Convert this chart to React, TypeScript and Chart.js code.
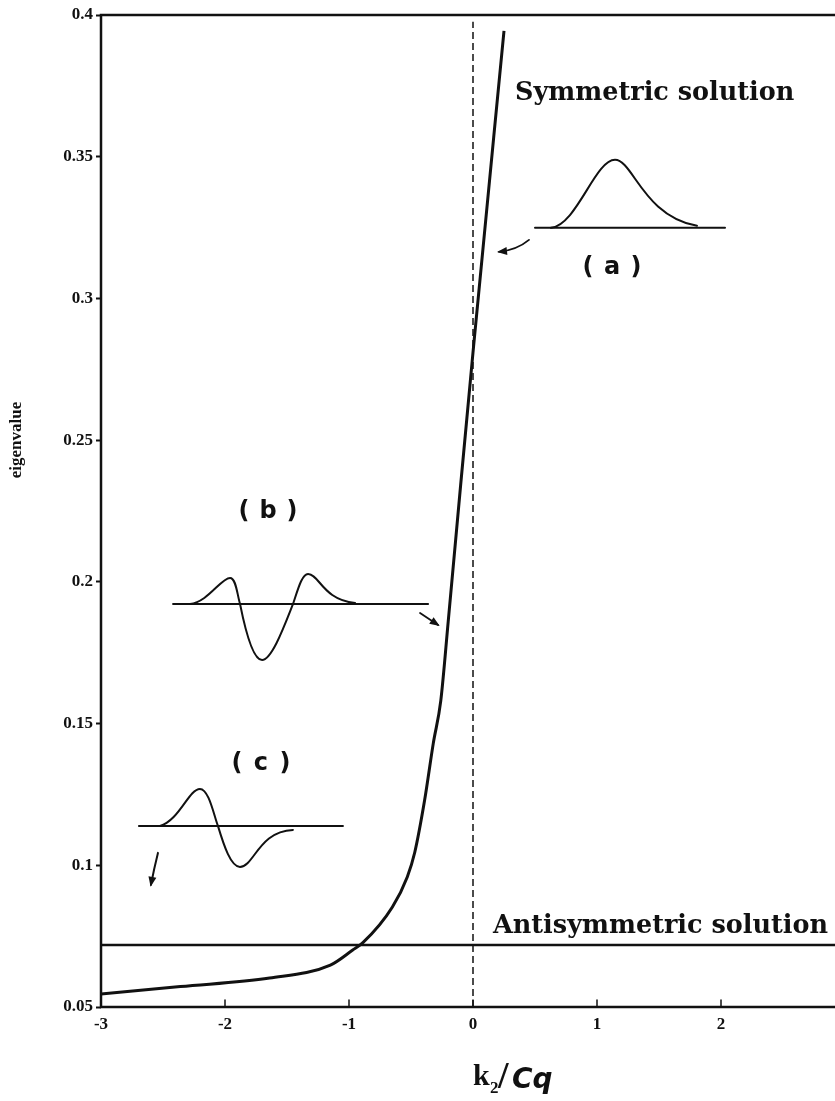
import { useEffect, useRef } from 'react';
import { Chart, registerables } from 'chart.js';

Chart.register(...registerables);

// ---- data ----
const symmetricX = [-3, -2.36, -1.64, -1.15, -0.97, -0.89, -0.65, -0.53, -0.47, -0.39, -0.32, -0.26, -0.2, -0.1, 0.0, 0.25];
const symmetricY = [0.0546, 0.0572, 0.0602, 0.0648, 0.0701, 0.0726, 0.0853, 0.0959, 0.1045, 0.123, 0.1431, 0.158, 0.186, 0.234, 0.281, 0.3944];
const antisymmetricX = [-3, 3];
const antisymmetricY = [0.0719, 0.0719];
const markerX = [0, 0];
const markerY = [0.05, 0.3976];
const xTickValues = [-3, -2, -1, 0, 1, 2, 3];
const yTickValues = [0.05, 0.1, 0.15, 0.2, 0.25, 0.3, 0.35, 0.4];

const INK = '#111';

function pts(xs: number[], ys: number[]) {
  return xs.map((x, i) => ({ x, y: ys[i] }));
}

function arrow(ctx: CanvasRenderingContext2D, x0: number, y0: number, cx: number, cy: number, x1: number, y1: number) {
  ctx.beginPath();
  ctx.moveTo(x0, y0);
  ctx.quadraticCurveTo(cx, cy, x1, y1);
  ctx.stroke();
  const ang = Math.atan2(y1 - cy, x1 - cx);
  const L = 8, W = 4;
  ctx.beginPath();
  ctx.moveTo(x1 + Math.cos(ang) * 2, y1 + Math.sin(ang) * 2);
  ctx.lineTo(x1 - Math.cos(ang) * L - Math.sin(ang) * W, y1 - Math.sin(ang) * L + Math.cos(ang) * W);
  ctx.lineTo(x1 - Math.cos(ang) * L + Math.sin(ang) * W, y1 - Math.sin(ang) * L - Math.cos(ang) * W);
  ctx.closePath();
  ctx.fill();
}

function paren(ctx: CanvasRenderingContext2D, letter: string, cx: number, cy: number) {
  ctx.save();
  ctx.font = 'bold 24px "DejaVu Sans"';
  ctx.textAlign = 'center';
  ctx.textBaseline = 'middle';
  ctx.fillText('(', cx - 24, cy);
  ctx.fillText(letter, cx, cy);
  ctx.fillText(')', cx + 24, cy);
  ctx.restore();
}

const decorPlugin = {
  id: 'decor',
  afterDatasetsDraw(chart: any) {
    const { ctx, chartArea } = chart;
    const xs = chart.scales.x;
    const ys = chart.scales.y;
    ctx.save();
    ctx.strokeStyle = INK;
    ctx.fillStyle = INK;
    ctx.lineCap = 'round';

    // frame (left, top, bottom)
    ctx.lineWidth = 2.5;
    ctx.beginPath();
    ctx.moveTo(chartArea.right + 20, chartArea.top);
    ctx.lineTo(chartArea.left, chartArea.top);
    ctx.lineTo(chartArea.left, chartArea.bottom);
    ctx.lineTo(chartArea.right + 20, chartArea.bottom);
    ctx.stroke();

    // inward x ticks
    ctx.lineWidth = 1.5;
    xs.ticks.forEach((t: any) => {
      const px = xs.getPixelForValue(t.value);
      ctx.beginPath();
      ctx.moveTo(px, chartArea.bottom);
      ctx.lineTo(px, chartArea.bottom - 7);
      ctx.stroke();
    });

    // inset (a)
    ctx.lineWidth = 2;
    let ox = xs.getPixelForValue(0.5), oy = ys.getPixelForValue(0.3249);
    ctx.beginPath();
    ctx.moveTo(ox, oy); ctx.lineTo(ox + 190, oy); ctx.stroke();
    ctx.beginPath();
    ctx.moveTo(ox + 16, oy);
    ctx.bezierCurveTo(ox + 42, oy - 3, ox + 60, oy - 68, ox + 80, oy - 68);
    ctx.bezierCurveTo(ox + 98, oy - 68, ox + 108, oy - 12, ox + 162, oy - 2);
    ctx.stroke();
    paren(ctx, 'a', ox + 77, oy + 40);
    ctx.lineWidth = 1.8;
    arrow(ctx, ox - 6, oy + 12, ox - 18, oy + 22, ox - 36, oy + 24);

    // inset (b)
    ctx.lineWidth = 2;
    ox = xs.getPixelForValue(-2.419); oy = ys.getPixelForValue(0.1922);
    ctx.beginPath();
    ctx.moveTo(ox, oy); ctx.lineTo(ox + 255, oy); ctx.stroke();
    ctx.beginPath();
    ctx.moveTo(ox + 17, oy);
    ctx.bezierCurveTo(ox + 35, oy - 2, ox + 48, oy - 26, ox + 57, oy - 26);
    ctx.bezierCurveTo(ox + 63, oy - 26, ox + 64, oy - 10, ox + 67, oy);
    ctx.bezierCurveTo(ox + 72, oy + 25, ox + 80, oy + 56, ox + 89, oy + 56);
    ctx.bezierCurveTo(ox + 99, oy + 56, ox + 112, oy + 20, ox + 120, oy);
    ctx.bezierCurveTo(ox + 125, oy - 15, ox + 129, oy - 30, ox + 135, oy - 30);
    ctx.bezierCurveTo(ox + 146, oy - 30, ox + 150, oy - 4, ox + 182, oy - 1);
    ctx.stroke();
    paren(ctx, 'b', ox + 95, oy - 92);
    ctx.lineWidth = 1.8;
    arrow(ctx, ox + 247, oy + 9, ox + 256, oy + 15, ox + 265, oy + 21);

    // inset (c)
    ctx.lineWidth = 2;
    ox = xs.getPixelForValue(-2.694); oy = ys.getPixelForValue(0.1139);
    ctx.beginPath();
    ctx.moveTo(ox, oy); ctx.lineTo(ox + 204, oy); ctx.stroke();
    ctx.beginPath();
    ctx.moveTo(ox + 21, oy);
    ctx.bezierCurveTo(ox + 40, oy - 5, ox + 50, oy - 37, ox + 61, oy - 37);
    ctx.bezierCurveTo(ox + 70, oy - 37, ox + 75, oy - 10, ox + 79, oy);
    ctx.bezierCurveTo(ox + 85, oy + 20, ox + 92, oy + 41, ox + 101, oy + 41);
    ctx.bezierCurveTo(ox + 115, oy + 41, ox + 120, oy + 5, ox + 154, oy + 4);
    ctx.stroke();
    paren(ctx, 'c', ox + 122, oy - 62);
    ctx.lineWidth = 2;
    arrow(ctx, ox + 19, oy + 27, ox + 15, oy + 43, ox + 12, oy + 59);

    // series labels
    ctx.font = 'bold 25.5px "DejaVu Serif"';
    ctx.textAlign = 'left';
    ctx.textBaseline = 'alphabetic';
    ctx.fillText('Symmetric solution', 515, 100);
    ctx.fillText('Antisymmetric solution', 493, 933);

    // y axis title
    ctx.save();
    ctx.translate(17, 440);
    ctx.rotate(-Math.PI / 2);
    ctx.font = 'bold 17px "Liberation Serif"';
    ctx.textAlign = 'center';
    ctx.textBaseline = 'middle';
    ctx.fillText('eigenvalue', 0, 0);
    ctx.restore();

    // x axis title  k2/Cq
    ctx.textBaseline = 'alphabetic';
    ctx.font = 'bold 30px "Liberation Serif"';
    ctx.fillText('k', 473, 1085);
    ctx.font = 'bold 17px "Liberation Serif"';
    ctx.fillText('2', 490, 1093);
    ctx.font = 'bold 38px "Liberation Serif"';
    ctx.fillText('/', 498, 1088);
    ctx.font = 'bold italic 28px "DejaVu Sans"';
    ctx.fillText('Cq', 512, 1088);

    ctx.restore();
  },
};

export default function App() {
  const ref = useRef<HTMLCanvasElement | null>(null);
  useEffect(() => {
    if (!ref.current) return;
    const chart = new Chart(ref.current, {
      type: 'scatter',
      data: {
        datasets: [
          {
            label: 'Symmetric solution',
            data: pts(symmetricX, symmetricY),
            showLine: true,
            borderColor: INK,
            borderWidth: 3,
            pointRadius: 0,
            cubicInterpolationMode: 'monotone',
          },
          {
            label: 'Antisymmetric solution',
            data: pts(antisymmetricX, antisymmetricY),
            showLine: true,
            borderColor: INK,
            borderWidth: 2.5,
            pointRadius: 0,
          },
          {
            label: 'k2 = 0',
            data: pts(markerX, markerY),
            showLine: true,
            borderColor: INK,
            borderWidth: 1.5,
            borderDash: [7, 4],
            pointRadius: 0,
          },
        ],
      },
      options: {
        animation: false,
        responsive: false,
        devicePixelRatio: 1,
        layout: { padding: { left: 0, top: 15, right: 55, bottom: 0 } },
        plugins: { legend: { display: false }, tooltip: { enabled: false } },
        scales: {
          x: {
            type: 'linear',
            min: -3,
            max: 3,
            afterFit: (s: any) => { s.height = 94; },
            afterBuildTicks: (s: any) => { s.ticks = xTickValues.map((v) => ({ value: v })); },
            border: { display: false },
            grid: { display: false, drawTicks: false },
            ticks: {
              padding: 7,
              color: INK,
              font: { family: '"Liberation Serif"', size: 17, weight: 'bold' },
              callback: (v: any) => String(v),
            },
          },
          y: {
            type: 'linear',
            min: 0.05,
            max: 0.4,
            afterFit: (s: any) => { s.width = 101; },
            afterBuildTicks: (s: any) => { s.ticks = yTickValues.map((v) => ({ value: v })); },
            border: { display: false },
            grid: { display: true, drawOnChartArea: false, drawTicks: true, tickLength: 5, tickColor: INK, tickWidth: 2 },
            ticks: {
              padding: 3,
              color: INK,
              font: { family: '"Liberation Serif"', size: 17, weight: 'bold' },
              callback: (v: any) => String(Number(Number(v).toFixed(2))),
            },
          },
        },
      },
      plugins: [decorPlugin],
    } as any);
    return () => chart.destroy();
  }, []);

  return (
    <div style={{ position: 'absolute', left: 0, top: 0, width: 835, height: 1101, overflow: 'hidden', background: '#fff' }}>
      <canvas ref={ref} width={900} height={1101} style={{ display: 'block' }} />
    </div>
  );
}
